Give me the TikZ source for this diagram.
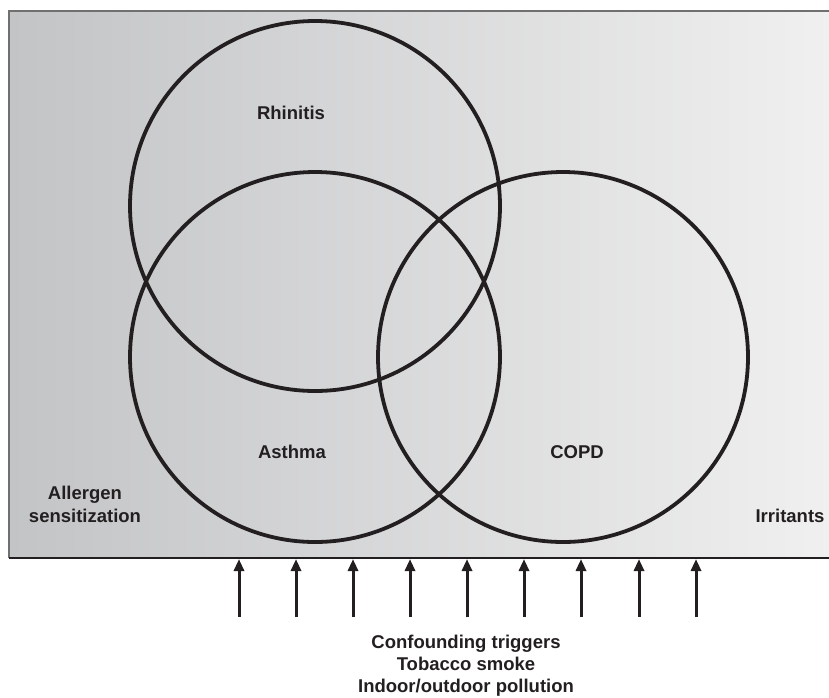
\documentclass[tikz,border=0pt]{standalone}
\usepackage{fontspec}
\setmainfont{Liberation Sans}
\usetikzlibrary{arrows.meta}
\definecolor{ink}{HTML}{231F20}
\definecolor{bgleft}{HTML}{C3C4C6}
\definecolor{bgright}{HTML}{F0F0F0}
\definecolor{frame}{HTML}{707070}
\tikzset{
  venn/.style={draw=ink, line width=3.8pt},
  lbl/.style={font=\bfseries\fontsize{18.5}{23}\selectfont, text=ink, inner sep=0pt, align=center},
  trig/.style={draw=ink, line width=3pt, -{Triangle[width=10pt,length=12pt]}}
}
\begin{document}
\begin{tikzpicture}[x=1pt,y=-1pt]
\useasboundingbox (0,0) rectangle (829,697);
% background panel
\shade[left color=bgleft, right color=bgright] (9,10) rectangle (832,558);
\draw[frame, line width=2pt] (9,558) -- (9,11) -- (832,11);
\draw[ink, line width=1.5pt] (9,558) -- (832,558);
% circles
\coordinate (crh) at (315,206);
\coordinate (cas) at (315,357);
\coordinate (cco) at (563,357);
\draw[venn] (crh) circle[radius=185pt];
\draw[venn] (cas) circle[radius=185pt];
\draw[venn] (cco) circle[radius=185pt];
% labels
\node[lbl] (rhinitis) at (291,113) {Rhinitis};
\node[lbl] (asthma) at (292,452) {Asthma};
\node[lbl] (copd) at (577,452) {COPD};
\node[lbl] (allergen) at (85,504) {Allergen\\sensitization};
\node[lbl] (irritants) at (790,516) {Irritants};
\node[lbl, font=\bfseries\fontsize{18.5}{22}\selectfont] (triggers) at (466,666) {Confounding triggers\\Tobacco smoke\\Indoor/outdoor pollution};
% arrows
\foreach \i/\x in {1/239,2/296,3/353,4/410,5/467,6/524,7/581,8/639,9/696}{
  \coordinate (a\i) at (\x,617);
  \coordinate (b\i) at (\x,559);
  \draw[trig] (a\i) -- (b\i);
}
\end{tikzpicture}
\end{document}
